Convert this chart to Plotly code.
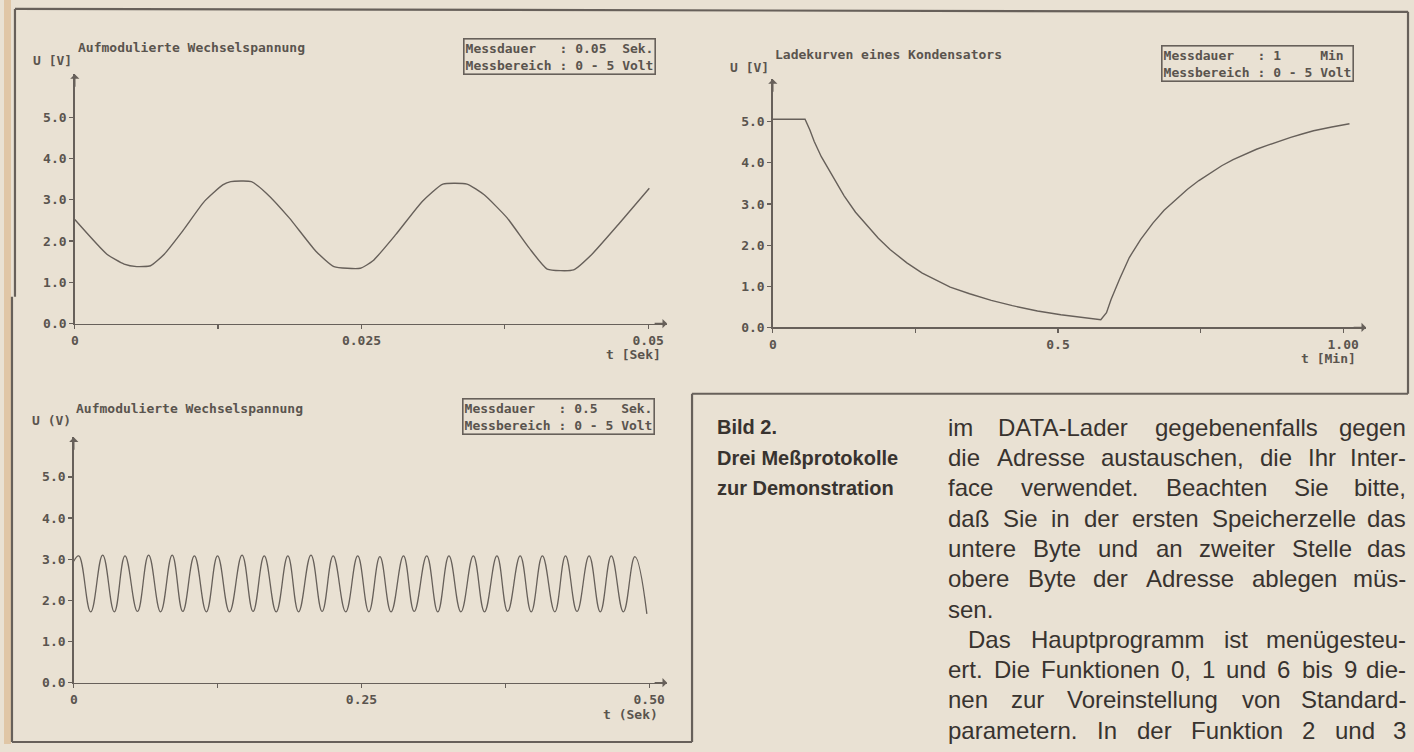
import plotly.graph_objects as go

# ---------------- data ----------------
# Chart 1: Aufmodulierte Wechselspannung, 0.05 s
t1 = [0.0, 0.0028, 0.0043, 0.0054, 0.0066, 0.0078, 0.0094, 0.0113, 0.0129, 0.0136,
      0.0154, 0.0167, 0.0187, 0.0210, 0.0226, 0.0249, 0.0260, 0.0280, 0.0303, 0.0321,
      0.0342, 0.0357, 0.0377, 0.0396, 0.0412, 0.0435, 0.0451, 0.0474, 0.0501]
v1 = [2.52, 1.68, 1.44, 1.38, 1.40, 1.68, 2.24, 2.96, 3.36, 3.44,
      3.44, 3.16, 2.56, 1.76, 1.38, 1.34, 1.52, 2.16, 2.96, 3.38,
      3.38, 3.12, 2.56, 1.84, 1.32, 1.30, 1.68, 2.40, 3.28]

# Chart 2: Ladekurven eines Kondensators, 1 min
t2 = [0.0, 0.0565, 0.065, 0.0726, 0.085, 0.101, 0.125, 0.145, 0.165, 0.185, 0.206,
      0.235, 0.262, 0.290, 0.311, 0.345, 0.383, 0.420, 0.464, 0.505, 0.545, 0.560,
      0.575, 0.585, 0.593, 0.608, 0.625, 0.645, 0.666, 0.686, 0.706, 0.727, 0.747,
      0.767, 0.787, 0.807, 0.827, 0.848, 0.868, 0.888, 0.908, 0.928, 0.948, 0.980,
      1.011]
v2 = [5.06, 5.06, 4.80, 4.52, 4.15, 3.78, 3.20, 2.80, 2.48, 2.17, 1.89,
      1.57, 1.32, 1.12, 0.98, 0.82, 0.66, 0.53, 0.40, 0.31, 0.24, 0.21,
      0.19, 0.36, 0.68, 1.18, 1.70, 2.14, 2.53, 2.85, 3.10, 3.36, 3.57,
      3.76, 3.93, 4.08, 4.21, 4.33, 4.43, 4.53, 4.62, 4.70, 4.78, 4.87,
      4.95]

# Chart 3: Aufmodulierte Wechselspannung, 0.5 s (peaks and troughs)
t3 = [0.0, 0.0043, 0.0147, 0.0251, 0.0352, 0.0445, 0.0553, 0.0650, 0.0754, 0.0855,
      0.0947, 0.1048, 0.1152, 0.1249, 0.1353, 0.1462, 0.1558, 0.1655, 0.1759, 0.1860,
      0.1953, 0.2061, 0.2158, 0.2254, 0.2363, 0.2467, 0.2564, 0.2660, 0.2757, 0.2865,
      0.2958, 0.3067, 0.3163, 0.3260, 0.3364, 0.3472, 0.3569, 0.3677, 0.3770, 0.3879,
      0.3975, 0.4072, 0.4180, 0.4273, 0.4373, 0.4478, 0.4575, 0.4671, 0.4776, 0.4876,
      0.4980]
v3 = [2.95, 3.08, 1.72, 3.10, 1.72, 3.08, 1.73, 3.10, 1.72, 3.10,
      1.73, 3.08, 1.72, 3.08, 1.72, 3.10, 1.73, 3.08, 1.72, 3.08,
      1.72, 3.10, 1.73, 3.08, 1.72, 3.08, 1.72, 3.06, 1.72, 3.08,
      1.73, 3.08, 1.72, 3.08, 1.72, 3.08, 1.72, 3.08, 1.73, 3.08,
      1.72, 3.08, 1.72, 3.08, 1.73, 3.08, 1.72, 3.08, 1.72, 3.06,
      1.67]

ytick_vals = [0, 1, 2, 3, 4, 5]
ytick_text = ["0.0", "1.0", "2.0", "3.0", "4.0", "5.0"]
x1_vals = [0, 0.0125, 0.025, 0.0375, 0.05]
x1_text = ["0", "", "0.025", "", "0.05"]
x2_vals = [0, 0.25, 0.5, 0.75, 1.0]
x2_text = ["0", "", "0.5", "", "1.00"]
x3_vals = [0, 0.125, 0.25, 0.375, 0.5]
x3_text = ["0", "", "0.25", "", "0.50"]

titles = ["Aufmodulierte Wechselspannung", "Ladekurven eines Kondensators",
          "Aufmodulierte Wechselspannung"]
boxes = ["Messdauer   : 0.05  Sek.<br>Messbereich : 0 - 5 Volt",
         "Messdauer   : 1     Min<br>Messbereich : 0 - 5 Volt",
         "Messdauer   : 0.5   Sek.<br>Messbereich : 0 - 5 Volt"]
ylabels = ["U [V]", "U [V]", "U (V)"]
xlabels = ["t [Sek]", "t [Min]", "t (Sek)"]

caption = ["Bild 2.", "Drei Meßprotokolle", "zur Demonstration"]
body = ["im DATA-Lader gegebenenfalls gegen",
        "die Adresse austauschen, die Ihr Inter-",
        "face verwendet. Beachten Sie bitte,",
        "daß Sie in der ersten Speicherzelle das",
        "untere Byte und an zweiter Stelle das",
        "obere Byte der Adresse ablegen müs-",
        "sen.",
        "Das Hauptprogramm ist menügesteu-",
        "ert. Die Funktionen 0, 1 und 6 bis 9 die-",
        "nen zur Voreinstellung von Standard-",
        "parametern. In der Funktion 2 und 3"]

# ---------------- styling ----------------
W, H = 1414, 752
BG = "#e9e1d3"
INK = "#67605a"
TXT = "#5a544e"
BODY = "#38332f"
MONO = "DejaVu Sans Mono"


def X(p):
    return p / W


def Y(p):
    return 1 - p / H


fig = go.Figure()
fig.add_trace(go.Scatter(x=t1, y=v1, xaxis="x", yaxis="y", mode="lines",
                         line=dict(color=INK, width=1.4, shape="spline", smoothing=0.5)))
fig.add_trace(go.Scatter(x=t2, y=v2, xaxis="x2", yaxis="y2", mode="lines",
                         line=dict(color=INK, width=1.4, shape="linear")))
fig.add_trace(go.Scatter(x=t3, y=v3, xaxis="x3", yaxis="y3", mode="lines",
                         line=dict(color=INK, width=1.3, shape="spline", smoothing=1.2)))

tickfont = dict(family=MONO, size=13, color=TXT, weight="bold")
common = dict(showgrid=False, zeroline=False, showline=True, linecolor=INK, linewidth=1.6,
              ticks="outside", ticklen=4, tickwidth=1.3, tickcolor=INK,
              tickfont=tickfont, fixedrange=True)

geo = [
    dict(xl=71, xr=665, yb=327, yt=75, xrange=0.05 * (665 - 71) / 575, ppu=41.7),
    dict(xl=771, xr=1366, yb=331, yt=80, xrange=(1366 - 771) / 572, ppu=41.6),
    dict(xl=70, xr=665, yb=690, yt=442, xrange=0.5 * (665 - 70) / 577, ppu=41.6),
]
xt = [(x1_vals, x1_text), (x2_vals, x2_text), (x3_vals, x3_text)]
layout_axes = {}
for i, g in enumerate(geo):
    sfx = "" if i == 0 else str(i + 1)
    yr = (g["yb"] - g["yt"]) / g["ppu"]
    g["yrange"] = yr
    layout_axes["xaxis" + sfx] = dict(common, domain=[X(g["xl"]), X(g["xr"])],
                                      range=[0, g["xrange"]], anchor="y" + sfx,
                                      tickvals=xt[i][0], ticktext=xt[i][1])
    layout_axes["yaxis" + sfx] = dict(common, domain=[Y(g["yb"]), Y(g["yt"])],
                                      range=[0, yr], anchor="x" + sfx,
                                      tickvals=ytick_vals, ticktext=ytick_text)

fig.update_layout(**layout_axes)

ann = []
shapes = []
for i, g in enumerate(geo):
    sfx = "" if i == 0 else str(i + 1)
    ann.append(dict(x=g["xrange"], y=0, xref="x" + sfx, yref="y" + sfx, text="",
                    showarrow=True, ax=-14, ay=0, arrowhead=1, arrowsize=1.1,
                    arrowwidth=1.4, arrowcolor=INK))
    ann.append(dict(x=0, y=g["yrange"], xref="x" + sfx, yref="y" + sfx, text="",
                    showarrow=True, ax=0, ay=14, arrowhead=1, arrowsize=1.1,
                    arrowwidth=1.4, arrowcolor=INK))

mono_font = dict(family=MONO, size=13, color=TXT, weight="bold")
title_pos = [(72, 48), (771, 55), (70, 413)]
for (x, y), t in zip(title_pos, titles):
    ann.append(dict(x=X(x), y=Y(y), xref="paper", yref="paper", text=t, showarrow=False,
                    xanchor="left", yanchor="middle", font=mono_font))
ylab_pos = [(70, 61), (769, 68), (69, 425)]
for (x, y), t in zip(ylab_pos, ylabels):
    ann.append(dict(x=X(x), y=Y(y), xref="paper", yref="paper", text=t, showarrow=False,
                    xanchor="right", yanchor="middle", font=mono_font))
xlab_pos = [(661, 358), (1358, 362), (658, 722)]
for (x, y), t in zip(xlab_pos, xlabels):
    ann.append(dict(x=X(x), y=Y(y), xref="paper", yref="paper", text=t, showarrow=False,
                    xanchor="right", yanchor="middle", font=mono_font))
box_pos = [(557, 57), (1257, 64), (556, 421)]
for (x, y), t in zip(box_pos, boxes):
    ann.append(dict(x=X(x), y=Y(y), xref="paper", yref="paper",
                    text=t.replace(" ", "\u00a0"), showarrow=False, align="left",
                    xanchor="center", yanchor="middle", bordercolor=INK, borderwidth=1.6,
                    borderpad=1, font=dict(family=MONO, size=13, color=TXT, weight="bold")))

ROW0, ROWH = 432, 30.6
for k, t in enumerate(caption):
    ann.append(dict(x=X(713), y=Y(ROW0 + ROWH * k), xref="paper", yref="paper", text=t,
                    showarrow=False, xanchor="left", yanchor="middle",
                    font=dict(family="Liberation Sans", size=20, color=BODY, weight="bold")))

# justified body text (Liberation Sans has Arial metrics)
AW = {' ': 278, ',': 278, '-': 333, '.': 278, ':': 278, 'ß': 611, 'ü': 556,
      'A': 667, 'B': 667, 'C': 722, 'D': 722, 'E': 667, 'F': 611, 'G': 778, 'H': 722,
      'I': 278, 'J': 500, 'K': 667, 'L': 556, 'M': 833, 'N': 722, 'O': 778, 'P': 667,
      'Q': 778, 'R': 722, 'S': 667, 'T': 611, 'U': 722, 'V': 667, 'W': 944, 'X': 667,
      'Y': 667, 'Z': 611, 'a': 556, 'b': 556, 'c': 500, 'd': 556, 'e': 556, 'f': 278,
      'g': 556, 'h': 556, 'i': 222, 'j': 222, 'k': 500, 'l': 222, 'm': 833, 'n': 556,
      'o': 556, 'p': 556, 'q': 556, 'r': 333, 's': 500, 't': 278, 'u': 556, 'v': 500,
      'w': 722, 'x': 500, 'y': 500, 'z': 500}
BSIZE = 24
BX0, BX1 = 946, 1407


def wpx(s):
    return sum(AW.get(c, 556) for c in s) * BSIZE / 1000.0


bfont = dict(family="Liberation Sans", size=BSIZE, color=BODY)
for k, line in enumerate(body):
    yy = Y(ROW0 + ROWH * k)
    indent = 20 if line.startswith("Das Haupt") else 0
    words = line.split(" ")
    justify = k != 6
    x0 = BX0 + indent
    if justify and len(words) > 1:
        total = sum(wpx(w) for w in words)
        gap = (BX1 - x0 - total) / (len(words) - 1)
    else:
        gap = wpx(" ")
    x = x0
    for j, w in enumerate(words):
        if justify and j == len(words) - 1 and len(words) > 1:
            ann.append(dict(x=X(BX1), y=yy, xref="paper", yref="paper", text=w,
                            showarrow=False, xanchor="right", yanchor="middle",
                            borderpad=0, font=bfont))
        else:
            ann.append(dict(x=X(x), y=yy, xref="paper", yref="paper", text=w,
                            showarrow=False, xanchor="left", yanchor="middle",
                            borderpad=0, font=bfont))
        x += wpx(w) + gap


def seg(x0, y0, x1, y1, w=2.2):
    return dict(type="line", xref="paper", yref="paper", x0=X(x0), y0=Y(y0),
                x1=X(x1), y1=Y(y1), line=dict(color=INK, width=w))


shapes.append(dict(type="rect", xref="paper", yref="paper", x0=0, x1=X(7), y0=0, y1=1,
                   fillcolor="#e0c6a6", line=dict(width=0), layer="below"))
shapes += [seg(11, 9, 1408, 12), seg(11, 9, 11, 300), seg(8, 300, 8, 750),
           seg(8, 750, 690, 750), seg(690, 398, 690, 750), seg(690, 398, 1408, 398),
           seg(1408, 12, 1408, 398)]

fig.update_layout(width=W, height=H, margin=dict(l=0, r=0, t=0, b=0),
                  paper_bgcolor=BG, plot_bgcolor="rgba(0,0,0,0)", showlegend=False,
                  annotations=ann, shapes=shapes)

fig.write_html("out.html", config={"displayModeBar": False, "staticPlot": True},
               post_script="document.body.style.margin='0';document.body.style.padding='0';"
                           "document.body.style.overflow='hidden';"
                           "document.body.style.background='" + BG + "';")
